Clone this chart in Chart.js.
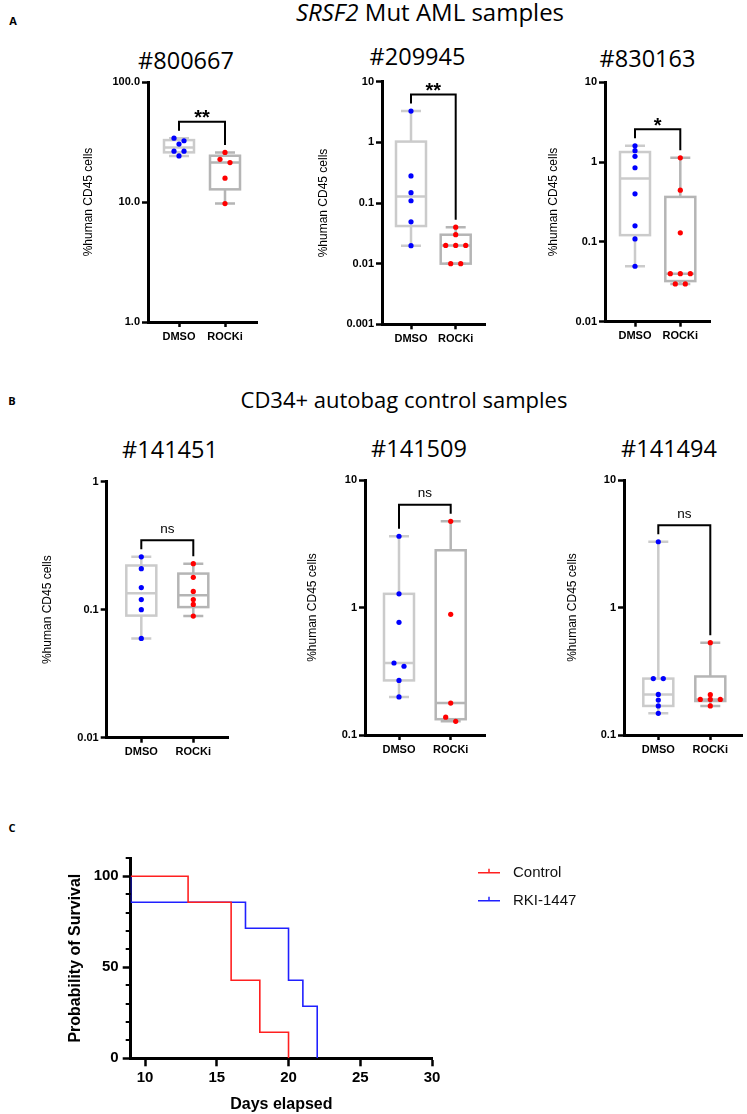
<!DOCTYPE html>
<html>
<head>
<meta charset="utf-8">
<title>ROCKi engraftment and survival</title>
<script src="https://cdn.jsdelivr.net/npm/chart.js@4.4.1/dist/chart.umd.min.js"></script>
<style>
  html, body { margin: 0; padding: 0; background: #fff; }
  #fig { position: relative; width: 747px; height: 1114px; overflow: hidden; }
  .txt { position: absolute; transform: translate(-50%, -50%); line-height: 1; white-space: nowrap;
         color: #000; font-family: "Open Sans", sans-serif; }
  .letter { font-weight: bold; font-size: 11px; }
  .headA { font-size: 24px; }
  .headB { font-size: 22px; }
  .sub { font-size: 23.5px; }
</style>
</head>
<body>
<div id="fig">
  <div class="txt letter" style="left:13px;top:20px">A</div>
  <div class="txt headA" style="left:430px;top:12px"><i>SRSF2</i> Mut AML samples</div>
  <div class="txt letter" style="left:12px;top:400px">B</div>
  <div class="txt headB" style="left:404px;top:399px">CD34+ autobag control samples</div>
  <div class="txt letter" style="left:12px;top:827px">C</div>
</div>
<script>
const groups = ['DMSO', 'ROCKi'];
const yTitle = '%human CD45 cells';

// A - SRSF2 mutant AML samples (% human CD45)
const dmso800667 = [34.0, 32.4, 30.4, 26.5, 26.5, 24.2];
const rocki800667 = [25.9, 22.7, 21.3, 15.8, 9.7];
const dmso209945 = [3.28, 0.279, 0.148, 0.109, 0.049, 0.0198];
const rocki209945 = [0.04, 0.03, 0.02, 0.02, 0.02, 0.01, 0.01];
const dmso830163 = [1.60, 1.39, 1.18, 0.85, 0.40, 0.159, 0.109, 0.0495];
const rocki830163 = [1.13, 0.445, 0.13, 0.04, 0.04, 0.04, 0.0297, 0.0297];

// B - CD34+ autobag controls
const dmso141451 = [0.259, 0.209, 0.149, 0.120, 0.100, 0.0597];
const rocki141451 = [0.229, 0.179, 0.139, 0.120, 0.110, 0.0892];
const dmso141509 = [3.62, 1.28, 0.765, 0.367, 0.346, 0.268, 0.199];
const rocki141509 = [4.74, 0.884, 0.178, 0.138, 0.128];
const dmso141494 = [3.28, 0.277, 0.277, 0.208, 0.188, 0.169, 0.148];
const rocki141494 = [0.53, 0.207, 0.19, 0.19, 0.19, 0.169];

const sigLabels = ['**', '**', '*', 'ns', 'ns', 'ns'];
const yRanges = [[1, 100], [0.001, 10], [0.01, 10], [0.01, 1], [0.1, 10], [0.1, 10]];

// C - Kaplan-Meier
const survXTicks = [10, 15, 20, 25, 30];
const survYTicks = [0, 50, 100];
const controlDays = [9, 13, 16, 18, 20];
const controlSurv = [100, 85.71, 42.86, 14.29, 0];
const rkiDays = [9, 9, 17, 20, 21, 22];
const rkiSurv = [100, 85.71, 71.43, 42.86, 28.57, 0];

Chart.defaults.font.family = '"Liberation Sans", Arial, sans-serif';
Chart.defaults.color = '#000';

const BLUE = '#0000ff', RED = '#ff0000';
const fig = document.getElementById('fig');

function place(id, left, top, w, h) {
  const c = document.createElement('canvas');
  c.id = id;
  c.width = w;
  c.height = h;
  c.style.cssText = `position:absolute;left:${left}px;top:${top}px;width:${w}px;height:${h}px`;
  fig.appendChild(c);
  return c;
}

function label(text, cls, x, y) {
  const d = document.createElement('div');
  d.className = 'txt ' + cls;
  d.style.left = x + 'px';
  d.style.top = y + 'px';
  d.textContent = text;
  fig.appendChild(d);
}

// GraphPad-style quartile, position (n+1)p
function quant(vals, p) {
  const s = vals.slice().sort((a, b) => a - b);
  const n = s.length;
  let pos = Math.min(Math.max((n + 1) * p, 1), n);
  const lo = Math.floor(pos), fr = pos - lo;
  if (lo >= n) return s[n - 1];
  return s[lo - 1] + fr * (s[lo] - s[lo - 1]);
}

// spread tied points sideways, centred, like a scatter-dot plot
const swarm = {
  id: 'swarm',
  beforeDatasetsDraw(chart) {
    const xs = chart.scales.x;
    chart.data.datasets.forEach((ds, i) => {
      const els = chart.getDatasetMeta(i).data;
      els.forEach((el, k) => { el.x = xs.getPixelForValue(ds.data[k].x); });
      const sorted = els.slice().sort((a, b) => a.y - b.y);
      let row = [];
      const flush = () => {
        row.forEach((el, k) => { el.x += (k - (row.length - 1) / 2) * 10; });
        row = [];
      };
      sorted.forEach(el => {
        if (row.length && el.y - row[0].y > 4.5) flush();
        row.push(el);
      });
      flush();
    });
  }
};

const boxes = {
  id: 'boxes',
  beforeDatasetsDraw(chart) {
    const { ctx, scales: { x, y } } = chart;
    chart.data.datasets.forEach(ds => {
      const v = ds.data.map(d => d.y);
      const [mn, q1, md, q3, mx] = [Math.min(...v), quant(v, 0.25), quant(v, 0.5), quant(v, 0.75), Math.max(...v)]
        .map(t => y.getPixelForValue(t));
      const cx = x.getPixelForValue(ds.data[0].x);
      ctx.save();
      ctx.strokeStyle = ds.boxColor;
      ctx.lineWidth = 2.5;
      ctx.beginPath();
      ctx.moveTo(cx, mx); ctx.lineTo(cx, q3);
      ctx.moveTo(cx, q1); ctx.lineTo(cx, mn);
      ctx.moveTo(cx - 10, mx); ctx.lineTo(cx + 10, mx);
      ctx.moveTo(cx - 10, mn); ctx.lineTo(cx + 10, mn);
      ctx.moveTo(cx - 15, md); ctx.lineTo(cx + 15, md);
      ctx.stroke();
      ctx.strokeRect(cx - 15, q3, 30, q1 - q3);
      ctx.restore();
    });
  }
};

const bracket = {
  id: 'bracket',
  afterDatasetsDraw(chart, args, opts) {
    const { ctx, scales: { x, y } } = chart;
    const ds = chart.data.datasets;
    const ends = ds.map(d => y.getPixelForValue(Math.max(...d.data.map(p => p.y))) - 7.5);
    const xs = ds.map(d => x.getPixelForValue(d.data[0].x));
    const top = Math.min(...ends) - 9;
    ctx.save();
    ctx.strokeStyle = '#000';
    ctx.lineWidth = 2;
    ctx.beginPath();
    ctx.moveTo(xs[0], ends[0]);
    ctx.lineTo(xs[0], top);
    ctx.lineTo(xs[1], top);
    ctx.lineTo(xs[1], ends[1]);
    ctx.stroke();
    ctx.fillStyle = '#000';
    ctx.textAlign = 'center';
    ctx.textBaseline = 'alphabetic';
    const mid = (xs[0] + xs[1]) / 2;
    if (opts.text === 'ns') {
      ctx.font = '13.5px "Liberation Sans", Arial, sans-serif';
      ctx.fillText(opts.text, mid, top - 7.5);
    } else {
      ctx.font = 'bold 20px "Liberation Sans", Arial, sans-serif';
      ctx.fillText(opts.text, mid, top + 2.5);
    }
    ctx.restore();
  }
};

const boxPanels = [
  { name: '800667', dmso: dmso800667, rocki: rocki800667, titleX: 186, titleY: 61, yLabX: 88, axisX: 148, yTop: 82, yBot: 322, xRight: 257, xD: 179, xR: 225, fixed: 1 },
  { name: '209945', dmso: dmso209945, rocki: rocki209945, titleX: 417.5, titleY: 57, yLabX: 323, axisX: 382, yTop: 81.7, yBot: 324.3, xRight: 485, xD: 411, xR: 455.7 },
  { name: '830163', dmso: dmso830163, rocki: rocki830163, titleX: 647.5, titleY: 58.5, yLabX: 553, axisX: 605, yTop: 82.3, yBot: 321.7, xRight: 710, xD: 635, xR: 680.3 },
  { name: '141451', dmso: dmso141451, rocki: rocki141451, titleX: 170, titleY: 450, yLabX: 46.7, axisX: 106.7, yTop: 481.7, yBot: 737.7, xRight: 228, xD: 141.3, xR: 193.3 },
  { name: '141509', dmso: dmso141509, rocki: rocki141509, titleX: 419, titleY: 449, yLabX: 312, axisX: 365, yTop: 480, yBot: 735, xRight: 485, xD: 399, xR: 450.7 },
  { name: '141494', dmso: dmso141494, rocki: rocki141494, titleX: 669, titleY: 449, yLabX: 572, axisX: 624, yTop: 480, yBot: 735, xRight: 742, xD: 658.3, xR: 710.3 }
];

function decades(min, max) {
  const out = [];
  for (let v = min; v <= max * 1.0001; v *= 10) out.push(Number(v.toPrecision(1)));
  return out;
}

boxPanels.forEach((p, i) => {
  label('#' + p.name, 'sub', p.titleX, p.titleY);
  const [ymin, ymax] = yRanges[i];
  const cl = Math.round(p.yLabX - 7.2);
  const ct = Math.round(p.yTop - 12);
  const w = Math.round(p.xRight + 5 - cl);
  const h = Math.round(p.yBot + 30 - ct);
  const canvas = place('c' + p.name, cl, ct, w, h);
  const unit = p.xR - p.xD;
  const tickVals = decades(ymin, ymax);

  new Chart(canvas, {
    type: 'scatter',
    data: {
      datasets: [
        { label: groups[0], data: p.dmso.map(v => ({ x: 0, y: v })), backgroundColor: BLUE, boxColor: '#cbcbcb' },
        { label: groups[1], data: p.rocki.map(v => ({ x: 1, y: v })), backgroundColor: RED, boxColor: '#b5b5b5' }
      ]
    },
    options: {
      responsive: false,
      animation: false,
      devicePixelRatio: 1,
      layout: { padding: { left: 0, top: p.yTop - ct, right: cl + w - p.xRight, bottom: 0 } },
      elements: { point: { radius: 2.6, borderWidth: 0 } },
      plugins: {
        legend: { display: false },
        tooltip: { enabled: false },
        bracket: { text: sigLabels[i] }
      },
      scales: {
        x: {
          type: 'linear',
          min: -(p.xD - p.axisX) / unit,
          max: 1 + (p.xRight - p.xR) / unit,
          afterBuildTicks: s => { s.ticks = [{ value: 0 }, { value: 1 }]; },
          afterFit: s => { s.height = ct + h - p.yBot; },
          ticks: { callback: v => groups[v], font: { size: 11, weight: 'bold' }, padding: 3, maxRotation: 0, autoSkip: false },
          grid: { drawOnChartArea: false, tickLength: 5, tickWidth: 2.5, tickColor: '#000' },
          border: { color: '#000', width: 3 }
        },
        y: {
          type: 'logarithmic',
          min: ymin,
          max: ymax,
          afterBuildTicks: s => { s.ticks = tickVals.map(v => ({ value: v })); },
          afterFit: s => { s.width = p.axisX - cl; },
          ticks: {
            callback: v => p.fixed ? Number(v).toFixed(p.fixed) : String(Number(Number(v).toPrecision(1))),
            font: { size: 11, weight: 'bold' }, padding: 2
          },
          grid: { drawOnChartArea: false, tickLength: 6, tickWidth: 2.5, tickColor: '#000' },
          border: { color: '#000', width: 3 },
          title: { display: true, text: yTitle, font: { size: 12 }, padding: 0 }
        }
      }
    },
    plugins: [swarm, boxes, bracket]
  });
});

// ---- C: survival ----
const minorTicks = {
  id: 'minorTicks',
  afterDraw(chart) {
    const { ctx, scales: { y }, chartArea } = chart;
    ctx.save();
    ctx.strokeStyle = '#000';
    ctx.lineWidth = 2;
    ctx.beginPath();
    for (let v = 10; v <= y.max; v += 10) {
      if (survYTicks.includes(v)) continue;
      const py = Math.round(y.getPixelForValue(v));
      ctx.moveTo(chartArea.left - 5, py);
      ctx.lineTo(chartArea.left, py);
    }
    ctx.stroke();
    ctx.restore();
  }
};

const kmLegend = {
  id: 'kmLegend',
  afterDraw(chart) {
    const { ctx, chartArea } = chart;
    ctx.save();
    ctx.font = '15px "Liberation Sans", Arial, sans-serif';
    ctx.textBaseline = 'middle';
    chart.data.datasets.forEach((ds, i) => {
      const y0 = chartArea.top + 14.7 + i * 28;
      const x0 = chartArea.right + 46;
      ctx.strokeStyle = ds.borderColor;
      ctx.lineWidth = 1.5;
      ctx.beginPath();
      ctx.moveTo(x0, y0); ctx.lineTo(x0 + 22, y0);
      ctx.moveTo(x0 + 11, y0); ctx.lineTo(x0 + 11, y0 - 4);
      ctx.stroke();
      ctx.fillStyle = '#111';
      ctx.fillText(ds.label, x0 + 35, y0);
    });
    ctx.restore();
  }
};

(function () {
  const axisX = 130.7, yTop = 857.3, yBot = 1058.3, xRight = 432;
  const cl = 66, ct = 845, w = 747 - cl, h = 1114 - ct;
  const canvas = place('cSurv', cl, ct, w, h);
  new Chart(canvas, {
    type: 'line',
    data: {
      datasets: [
        { label: 'Control', data: controlDays.map((d, i) => ({ x: d, y: controlSurv[i] })), borderColor: '#ff2020' },
        { label: 'RKI-1447', data: rkiDays.map((d, i) => ({ x: d, y: rkiSurv[i] })), borderColor: '#2020ff' }
      ]
    },
    options: {
      responsive: false,
      animation: false,
      devicePixelRatio: 1,
      layout: { padding: { left: 0, top: yTop - ct, right: cl + w - xRight, bottom: 0 } },
      elements: { line: { borderWidth: 1.6, stepped: 'before', fill: false }, point: { radius: 0 } },
      plugins: { legend: { display: false }, tooltip: { enabled: false } },
      scales: {
        x: {
          type: 'linear', min: 9, max: 30,
          afterBuildTicks: s => { s.ticks = survXTicks.map(v => ({ value: v })); },
          afterFit: s => { s.height = ct + h - yBot; },
          ticks: { font: { size: 15, weight: 'bold' }, padding: 3, maxRotation: 0 },
          grid: { drawOnChartArea: false, tickLength: 8, tickWidth: 2.5, tickColor: '#000' },
          border: { color: '#000', width: 3 },
          title: { display: true, text: 'Days elapsed', font: { size: 16, weight: 'bold' }, padding: 0 }
        },
        y: {
          type: 'linear', min: 0, max: 110,
          afterBuildTicks: s => { s.ticks = survYTicks.map(v => ({ value: v })); },
          afterFit: s => { s.width = axisX - cl; },
          ticks: { font: { size: 15, weight: 'bold' }, padding: 4 },
          grid: { drawOnChartArea: false, tickLength: 8, tickWidth: 2.5, tickColor: '#000' },
          border: { color: '#000', width: 3 },
          title: { display: true, text: 'Probability of Survival', font: { size: 16, weight: 'bold' }, padding: 0 }
        }
      }
    },
    plugins: [minorTicks, kmLegend]
  });
})();
</script>
</body>
</html>
